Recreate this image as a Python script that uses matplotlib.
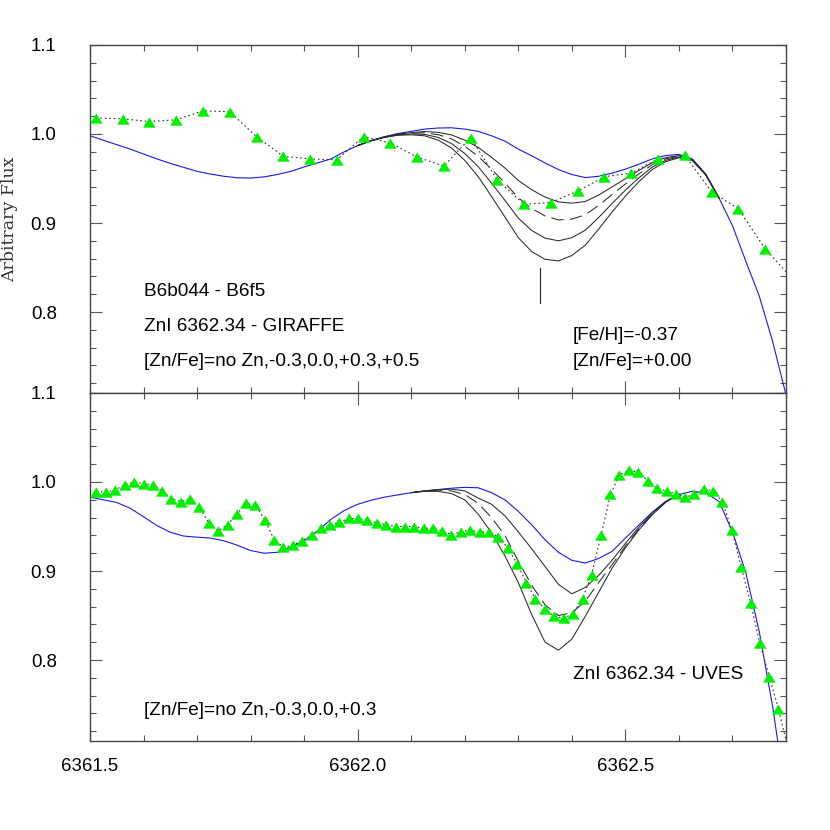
import matplotlib
matplotlib.use('Agg')
import matplotlib.pyplot as plt
from matplotlib.ticker import MultipleLocator, FixedLocator, FormatStrFormatter

plt.rcParams['font.family'] = ['Liberation Sans', 'DejaVu Sans']

# ---------------- top panel: GIRAFFE ----------------
giraffe_wave = [6361.511, 6361.561, 6361.611, 6361.661, 6361.711, 6361.761, 6361.811,
                6361.861, 6361.911, 6361.961, 6362.011, 6362.061, 6362.111, 6362.161,
                6362.211, 6362.261, 6362.311, 6362.361, 6362.411, 6362.461, 6362.511,
                6362.561, 6362.611, 6362.661, 6362.711, 6362.761, 6362.811]
giraffe_flux = [1.018, 1.017, 1.014, 1.016, 1.026, 1.025, 0.997,
                0.975, 0.972, 0.971, 0.997, 0.990, 0.974, 0.964,
                0.996, 0.948, 0.921, 0.923, 0.936, 0.952, 0.956,
                0.972, 0.976, 0.935, 0.916, 0.871, 0.838]

top_model_wave = [6361.500, 6361.525, 6361.550, 6361.575, 6361.600, 6361.625, 6361.650,
                  6361.675, 6361.700, 6361.725, 6361.750, 6361.775, 6361.800, 6361.825,
                  6361.850, 6361.875, 6361.900, 6361.925, 6361.950, 6361.975,
                  6362.000, 6362.025, 6362.050, 6362.075,
                  6362.100, 6362.125, 6362.150, 6362.175, 6362.200, 6362.225, 6362.250,
                  6362.275, 6362.300, 6362.325, 6362.350, 6362.375, 6362.400, 6362.425,
                  6362.450, 6362.475, 6362.500, 6362.525, 6362.550, 6362.575, 6362.600,
                  6362.625, 6362.650, 6362.675, 6362.700, 6362.725, 6362.750, 6362.775,
                  6362.800]
top_nozn = [0.998, 0.993, 0.988, 0.983, 0.9775, 0.972, 0.967,
            0.9625, 0.958, 0.955, 0.9525, 0.9508, 0.9505, 0.9518,
            0.9545, 0.958, 0.963, 0.9675, 0.972, 0.980,
            0.987, 0.9925, 0.997, 1.0005,
            1.003, 1.0055, 1.0067, 1.007, 1.0055, 1.003, 0.998,
            0.992, 0.983, 0.9755, 0.9675, 0.960, 0.9545, 0.951,
            0.9525, 0.956, 0.9605, 0.966, 0.972, 0.9758, 0.977,
            0.972, 0.955, 0.928, 0.897, 0.857, 0.818, 0.767,
            0.707]

top_syn_wave = [6362.000, 6362.025, 6362.050, 6362.075, 6362.100, 6362.125, 6362.150,
                6362.175, 6362.200, 6362.225, 6362.250, 6362.275, 6362.300, 6362.325,
                6362.350, 6362.375, 6362.400, 6362.425, 6362.450, 6362.475, 6362.500,
                6362.525, 6362.550, 6362.575, 6362.600, 6362.625, 6362.650, 6362.675]
top_zn_m03 = [0.987, 0.9925, 0.9967, 0.9998, 1.0016, 1.0028, 1.0019,
              0.9990, 0.9931, 0.9850, 0.9738, 0.9618, 0.9478, 0.9374,
              0.9291, 0.9237, 0.9223, 0.9241, 0.9314, 0.9405, 0.9498,
              0.9590, 0.9678, 0.9734, 0.9757, 0.9713, 0.9547, 0.928]
top_zn_00 = [0.987, 0.9925, 0.9965, 0.9995, 1.0009, 1.0014, 0.9993,
             0.9946, 0.9862, 0.9750, 0.9604, 0.9450, 0.9283, 0.9163,
             0.9079, 0.9035, 0.9044, 0.9092, 0.9197, 0.9319, 0.9438,
             0.9551, 0.9654, 0.9720, 0.9750, 0.9710, 0.9545, 0.928]
top_zn_p03 = [0.987, 0.9924, 0.9963, 0.9990, 1.0000, 0.9996, 0.9962,
              0.9894, 0.9781, 0.9634, 0.9448, 0.9254, 0.9055, 0.8916,
              0.8830, 0.8800, 0.8835, 0.8918, 0.9061, 0.9218, 0.9369,
              0.9506, 0.9627, 0.9704, 0.9741, 0.9706, 0.9543, 0.928]
top_zn_p05 = [0.987, 0.9923, 0.9962, 0.9986, 0.9991, 0.9980, 0.9932,
              0.9844, 0.9704, 0.9522, 0.9298, 0.9067, 0.8836, 0.8679,
              0.8592, 0.8574, 0.8635, 0.8750, 0.8930, 0.9122, 0.9302,
              0.9463, 0.9600, 0.9689, 0.9733, 0.9701, 0.9541, 0.928]

zn_line_wave = 6362.34
zn_line_flux = [0.810, 0.849]

# ---------------- bottom panel: UVES ----------------
uves_wave = [6361.512, 6361.530, 6361.547, 6361.565, 6361.582, 6361.600, 6361.617,
             6361.635, 6361.652, 6361.670, 6361.687, 6361.704, 6361.722, 6361.739,
             6361.757, 6361.774, 6361.792, 6361.809, 6361.827, 6361.844, 6361.861,
             6361.879, 6361.896, 6361.914, 6361.931, 6361.949, 6361.966, 6361.984,
             6362.001, 6362.018, 6362.036, 6362.053, 6362.071, 6362.088, 6362.106,
             6362.123, 6362.141, 6362.158, 6362.175, 6362.193, 6362.210, 6362.228,
             6362.245, 6362.263, 6362.280, 6362.298, 6362.315, 6362.332, 6362.350,
             6362.367, 6362.385, 6362.402, 6362.420, 6362.437, 6362.455, 6362.472,
             6362.489, 6362.507, 6362.524, 6362.542, 6362.559, 6362.577, 6362.594,
             6362.612, 6362.629, 6362.646, 6362.664, 6362.681, 6362.699, 6362.716,
             6362.734, 6362.751, 6362.769, 6362.786, 6362.803]
uves_flux = [0.989, 0.989, 0.991, 0.997, 1.000, 0.998, 0.997,
             0.990, 0.981, 0.978, 0.981, 0.972, 0.954, 0.945,
             0.952, 0.964, 0.976, 0.974, 0.957, 0.935, 0.927,
             0.929, 0.934, 0.940, 0.948, 0.952, 0.955, 0.959,
             0.959, 0.957, 0.954, 0.952, 0.950, 0.950, 0.950,
             0.948, 0.948, 0.945, 0.941, 0.944, 0.946, 0.944,
             0.944, 0.938, 0.926, 0.908, 0.887, 0.869, 0.857,
             0.849, 0.847, 0.852, 0.869, 0.896, 0.941, 0.986,
             1.008, 1.013, 1.011, 1.001, 0.993, 0.990, 0.987,
             0.983, 0.986, 0.992, 0.990, 0.978, 0.946, 0.905,
             0.864, 0.819, 0.781, 0.745, 0.702]

bot_model_wave = [6361.500, 6361.525, 6361.550, 6361.575, 6361.600, 6361.625, 6361.650,
                  6361.675, 6361.700, 6361.725, 6361.750, 6361.775, 6361.800, 6361.825,
                  6361.850, 6361.875, 6361.900, 6361.925, 6361.950, 6361.975, 6362.000,
                  6362.025, 6362.050, 6362.075, 6362.100, 6362.125, 6362.150, 6362.175,
                  6362.200, 6362.225, 6362.250, 6362.275, 6362.300, 6362.325, 6362.350,
                  6362.375, 6362.400, 6362.425, 6362.450, 6362.475, 6362.500, 6362.525,
                  6362.550, 6362.575, 6362.600, 6362.625, 6362.650, 6362.675, 6362.700,
                  6362.725, 6362.750, 6362.775, 6362.785]
bot_nozn = [0.983, 0.980, 0.977, 0.9705, 0.961, 0.951, 0.9435,
            0.9393, 0.938, 0.937, 0.934, 0.929, 0.923, 0.920,
            0.921, 0.927, 0.934, 0.945, 0.958, 0.968, 0.975,
            0.9795, 0.983, 0.9855, 0.988, 0.990, 0.9915, 0.993,
            0.994, 0.9935, 0.988, 0.980, 0.967, 0.952, 0.935,
            0.921, 0.912, 0.909, 0.914, 0.922, 0.937, 0.9515,
            0.966, 0.978, 0.986, 0.9895, 0.988, 0.978, 0.944,
            0.898, 0.832, 0.748, 0.707]

bot_syn_wave = [6362.100, 6362.125, 6362.150, 6362.175, 6362.200, 6362.225, 6362.250,
                6362.275, 6362.300, 6362.325, 6362.350, 6362.375, 6362.400, 6362.425,
                6362.450, 6362.475, 6362.500, 6362.525, 6362.550, 6362.575, 6362.600]
bot_zn_m03 = [0.988, 0.990, 0.9912, 0.992, 0.990, 0.982, 0.975,
              0.962, 0.944, 0.925, 0.905, 0.885, 0.8744, 0.8815,
              0.895, 0.912, 0.931, 0.949, 0.965, 0.978, 0.986]
bot_zn_00 = [0.988, 0.990, 0.991, 0.990, 0.986, 0.976, 0.960,
             0.940, 0.911, 0.884, 0.862, 0.850, 0.853, 0.866,
             0.887, 0.907, 0.928, 0.947, 0.964, 0.977, 0.986]
bot_zn_p03 = [0.988, 0.9895, 0.9895, 0.987, 0.980, 0.964, 0.943,
              0.917, 0.887, 0.851, 0.820, 0.811, 0.8235, 0.849,
              0.876, 0.903, 0.926, 0.946, 0.963, 0.977, 0.986]

x_major = [6361.5, 6362.0, 6362.5]
y_major = [0.8, 0.9, 1.0, 1.1]

BLUE = '#1a1ae8'
SYN = '#2a2a2a'
GREEN = '#00f000'
# wide, flat triangle (about 11-12 px wide, 9-10 px tall)
TRI = [(0.0, 4.5), (-5.5, -4.5), (5.5, -4.5)]

fig = plt.figure(figsize=(8.3, 8.3), dpi=100)
ax1 = fig.add_axes([0.10843, 0.52651, 0.83855, 0.41928])
ax2 = fig.add_axes([0.10843, 0.10723, 0.83855, 0.41928])


def style(ax, show_x):
    ax.set_xlim(6361.5, 6362.8)
    ax.set_ylim(0.709, 1.1)
    ax.xaxis.set_major_locator(FixedLocator(x_major))
    ax.xaxis.set_minor_locator(MultipleLocator(0.1))
    ax.yaxis.set_major_locator(FixedLocator(y_major))
    ax.yaxis.set_minor_locator(MultipleLocator(0.02))
    ax.xaxis.set_major_formatter(FormatStrFormatter('%.1f'))
    ax.yaxis.set_major_formatter(FormatStrFormatter('%.1f'))
    ax.tick_params(which='both', direction='in', top=True, right=True,
                   color='#555555', width=0.8, labelcolor='black')
    ax.tick_params(which='major', length=8.3)
    ax.tick_params(which='minor', length=4.5)
    ax.tick_params(axis='y', which='major', pad=24, labelsize=13.4)
    ax.tick_params(axis='x', which='major', pad=12, labelsize=13.4)
    if not show_x:
        ax.tick_params(axis='x', labelbottom=False)
    for s in ax.spines.values():
        s.set_color('#444444')
        s.set_linewidth(1.0)


dotted = (0, (1.5, 2.5))
dashed = (0, (12, 6))

# top panel
ax1.plot(top_model_wave, top_nozn, color=BLUE, lw=0.8, zorder=2)
ax1.plot(top_syn_wave, top_zn_m03, color=SYN, lw=0.75, zorder=3)
ax1.plot(top_syn_wave, top_zn_00, color=SYN, lw=0.75, ls=dashed, zorder=3)
ax1.plot(top_syn_wave, top_zn_p03, color=SYN, lw=0.75, zorder=3)
ax1.plot(top_syn_wave, top_zn_p05, color=SYN, lw=0.75, zorder=3)
ax1.plot(giraffe_wave, giraffe_flux, color='#333333', lw=0.8, ls=dotted, zorder=4)
ax1.plot(giraffe_wave, giraffe_flux, ls='none', marker=TRI, ms=8.4,
         color=GREEN, mec=GREEN, mew=0.4, zorder=5)
ax1.plot([zn_line_wave, zn_line_wave], zn_line_flux, color='#333333', lw=0.9)
style(ax1, False)

ax1.set_ylabel('Arbitrary Flux', family=['DejaVu Serif'], fontsize=12.5, color='#333333')
ax1.yaxis.set_label_coords(-0.1034, 0.5)

fs = 13.7
ax1.text(0.0776, 0.2796, 'B6b044 - B6f5', transform=ax1.transAxes, fontsize=fs, va='baseline')
ax1.text(0.0776, 0.178, 'ZnI 6362.34 - GIRAFFE', transform=ax1.transAxes, fontsize=fs, va='baseline')
ax1.text(0.0776, 0.0776, '[Zn/Fe]=no Zn,-0.3,0.0,+0.3,+0.5', transform=ax1.transAxes,
         fontsize=fs, va='baseline')
ax1.text(0.6935, 0.1523, '[Fe/H]=-0.37', transform=ax1.transAxes, fontsize=fs, va='baseline')
ax1.text(0.6935, 0.0776, '[Zn/Fe]=+0.00', transform=ax1.transAxes, fontsize=fs, va='baseline')

# bottom panel
ax2.plot(bot_model_wave, bot_nozn, color=BLUE, lw=0.8, zorder=2)
ax2.plot(bot_syn_wave, bot_zn_m03, color=SYN, lw=0.75, zorder=3)
ax2.plot(bot_syn_wave, bot_zn_00, color=SYN, lw=0.75, ls=dashed, zorder=3)
ax2.plot(bot_syn_wave, bot_zn_p03, color=SYN, lw=0.75, zorder=3)
ax2.plot(uves_wave, uves_flux, color='#333333', lw=0.8, ls=dotted, zorder=4)
ax2.plot(uves_wave, uves_flux, ls='none', marker=TRI, ms=8.4,
         color=GREEN, mec=GREEN, mew=0.4, zorder=5)
style(ax2, True)

ax2.text(0.0776, 0.0747, '[Zn/Fe]=no Zn,-0.3,0.0,+0.3', transform=ax2.transAxes,
         fontsize=fs, va='baseline')
ax2.text(0.6935, 0.179, 'ZnI 6362.34 - UVES', transform=ax2.transAxes, fontsize=fs, va='baseline')

fig.savefig('out.png', dpi=100)
